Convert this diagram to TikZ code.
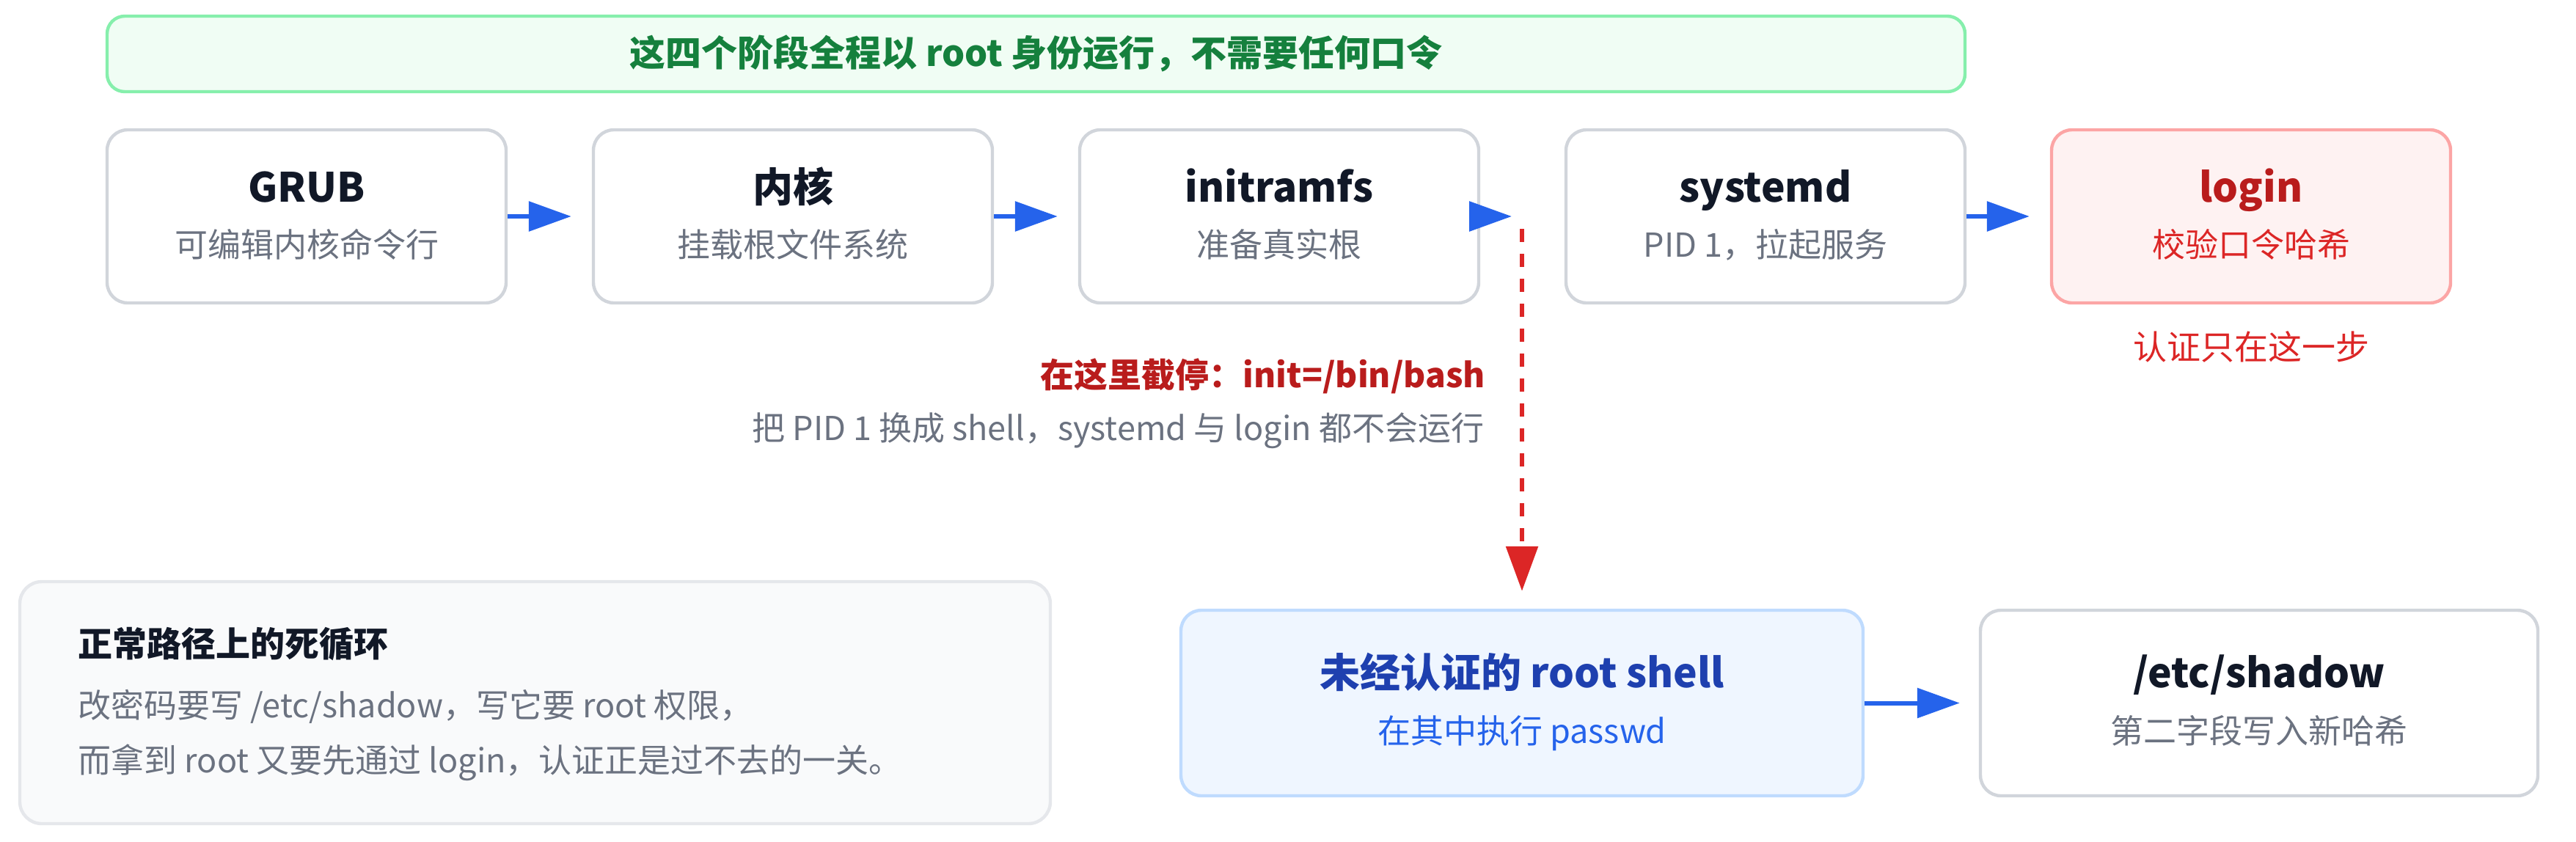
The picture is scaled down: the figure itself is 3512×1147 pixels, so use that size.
\documentclass[tikz,border=0pt]{standalone}
\usepackage{fontspec}
\setmainfont{Noto Sans CJK SC}
\usetikzlibrary{arrows.meta}
\definecolor{ink}{HTML}{111827}
\definecolor{mute}{HTML}{6B7280}
\definecolor{edge}{HTML}{D1D5DB}
\definecolor{flowblue}{HTML}{2563EB}
\definecolor{bandfill}{HTML}{F0FDF4}
\definecolor{banddraw}{HTML}{86EFAC}
\definecolor{bandtext}{HTML}{15803D}
\definecolor{redfill}{HTML}{FEF2F2}
\definecolor{reddraw}{HTML}{FCA5A5}
\definecolor{reddark}{HTML}{B91C1C}
\definecolor{redmid}{HTML}{DC2626}
\definecolor{bluefill}{HTML}{EFF6FF}
\definecolor{bluedraw}{HTML}{BFDBFE}
\definecolor{bluedark}{HTML}{1E40AF}
\definecolor{notefill}{HTML}{F9FAFB}
\definecolor{notedraw}{HTML}{E5E7EB}
\begin{document}
\begin{tikzpicture}[x=0.25pt,y=-0.25pt,line join=round,
        stage/.style={draw=edge,line width=1.1pt,fill=white,rounded corners=7pt,inner sep=0pt,minimum width=136pt,minimum height=59pt},
        ttl/.style={anchor=base,inner sep=0pt,text=ink,font=\bfseries\fontsize{13.75}{16}\selectfont},
        sub/.style={anchor=base,inner sep=0pt,text=mute,font=\fontsize{11.25}{13}\selectfont},
        flow/.style={draw=flowblue,line width=1.5pt,-{Triangle[length=14.5pt,width=10pt]}}]
    \useasboundingbox (0,0) rectangle (3512,1147);
    % banner
    \node[draw=banddraw,fill=bandfill,line width=1.1pt,rounded corners=6pt,inner sep=0pt,minimum width=633.25pt,minimum height=25.75pt] (band) at (1412.5,73.5) {};
    \node[anchor=base,inner sep=0pt,text=bandtext,font=\bfseries\fontsize{12.25}{14}\selectfont] (bandtxt) at (1412.5,90) {这四个阶段全程以 root 身份运行，不需要任何口令};
    % boot stages
    \node[stage] (grub) at (418,295) {};
    \node[stage] (kern) at (1081,295) {};
    \node[stage] (initrd) at (1744,295) {};
    \node[stage] (sysd) at (2407,295) {};
    \node[stage,draw=reddraw,fill=redfill] (login) at (3069,295) {};
    \node[ttl] (grubt) at (418,275) {GRUB};
    \node[sub] (grubs) at (418,350) {可编辑内核命令行};
    \node[ttl] (kernt) at (1081,275) {内核};
    \node[sub] (kerns) at (1081,350) {挂载根文件系统};
    \node[ttl] (initrdt) at (1744,275) {initramfs};
    \node[sub] (initrds) at (1744,350) {准备真实根};
    \node[ttl] (sysdt) at (2407,275) {systemd};
    \node[sub] (sysds) at (2407,350) {PID 1，拉起服务};
    \node[ttl,text=reddark] (logint) at (3069,275) {login};
    \node[sub,text=redmid] (logins) at (3069,350) {校验口令哈希};
    \node[sub,text=redmid,font=\fontsize{11.5}{13}\selectfont] (authnote) at (3069,490) {认证只在这一步};
    \draw[flow] (grub.east) -- ([xshift=-7pt]kern.west);
    \draw[flow] (kern.east) -- ([xshift=-7pt]initrd.west);
    \coordinate (cut) at (2061,295);
    \draw[flow] (initrd.east) -- (cut);
    \draw[flow] (sysd.east) -- ([xshift=-7pt]login.west);
    % break in
    \node[sub,anchor=base east,text=reddark,font=\bfseries\fontsize{11.5}{13}\selectfont] (cutlbl) at (2026,528) {在这里截停：init=/bin/bash};
    \node[sub,anchor=base east] (cutinfo) at (2024,600) {把 PID 1 换成 shell，systemd 与 login 都不会运行};
    \node[stage,draw=bluedraw,fill=bluefill,minimum width=232.5pt,minimum height=63.25pt] (shell) at (2075,958.5) {};
    \node[stage,minimum width=190pt,minimum height=63.25pt] (shadow) at (3080,958.5) {};
    \node[ttl,text=bluedark] (shellt) at (2075,937) {未经认证的 root shell};
    \node[sub,text=flowblue] (shells) at (2075,1013) {在其中执行 passwd};
    \node[ttl] (shadowt) at (3080,937) {/etc/shadow};
    \node[sub] (shadows) at (3080,1013) {第二字段写入新哈希};
    \coordinate (drop) at (2075,312);
    \draw[draw=redmid,line width=1.5pt,dash pattern=on 4.5pt off 4pt,-{Triangle[length=15.25pt,width=10.75pt]}] (drop) -- ([yshift=6pt]shell.north);
    \draw[flow] (shell.east) -- ([xshift=-6.5pt]shadow.west);
    % dead loop note
    \node[stage,draw=notedraw,fill=notefill,rounded corners=7.5pt,minimum width=351.25pt,minimum height=82.5pt] (note) at (729.5,958) {};
    \node[ttl,anchor=base west,font=\bfseries\fontsize{11.75}{14}\selectfont] (notet) at (106,895) {正常路径上的死循环};
    \node[sub,anchor=base west] (notea) at (106,978) {改密码要写 /etc/shadow，写它要 root 权限，};
    \node[sub,anchor=base west] (noteb) at (106,1053) {而拿到 root 又要先通过 login，认证正是过不去的一关。};
\end{tikzpicture}
\end{document}
